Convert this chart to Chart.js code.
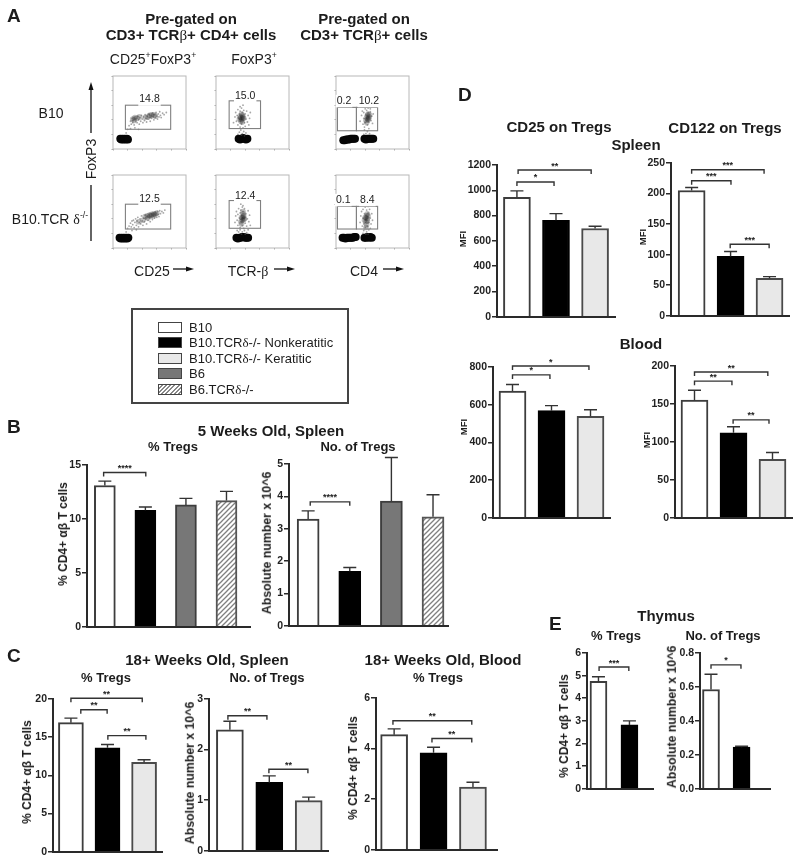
<!DOCTYPE html>
<html>
<head>
<meta charset="utf-8">
<title>Tregs figure</title>
<script src="https://cdn.jsdelivr.net/npm/chart.js@4"></script>
<style>
  html, body { margin: 0; background: #fff; }
  #fig { position: relative; width: 800px; height: 864px; overflow: hidden; font-family: "Liberation Sans", Arial, sans-serif; color: #1c1c1c; filter: blur(0.35px); }
  #fig canvas { position: absolute; }
  .t { position: absolute; white-space: nowrap; line-height: 1; }
  .t sup { font-size: 0.62em; line-height: 0; }
  .sym { font-family: "Liberation Serif", serif; font-weight: normal; }
  #legend { position: absolute; left: 131px; top: 308px; width: 214px; height: 92px; border: 2px solid #444; }
  .sw { position: absolute; left: 158px; width: 22px; height: 9px; border: 1px solid #444; }
</style>
</head>
<body>
<div id="fig">
  <div id="legend"></div>
  <svg id="arrows" width="800" height="864" style="position:absolute;left:0;top:0">
    <g stroke="#111" stroke-width="1.3" fill="#111">
      <line x1="91" y1="86" x2="91" y2="133"/><path d="M91 82 L88.5 90 L93.5 90 Z" stroke="none"/>
      <line x1="91" y1="185" x2="91" y2="241"/>
      <line x1="173" y1="269" x2="190" y2="269"/><path d="M194 269 L186 266.5 L186 271.5 Z" stroke="none"/>
      <line x1="274" y1="269" x2="291" y2="269"/><path d="M295 269 L287 266.5 L287 271.5 Z" stroke="none"/>
      <line x1="383" y1="269" x2="400" y2="269"/><path d="M404 269 L396 266.5 L396 271.5 Z" stroke="none"/>
    </g>
  </svg>
</div>
<script>
// Panel A - flow plots, x and y in percent of the plot
const gatesTop1 = [[17, 79, 27, 60, "14.8", 50, 68]];
const gatesTop2 = [[18, 61, 28, 66, "15.0", 40, 73]];
const gatesTop3 = [[2, 28, 25, 57, "0.2", 11, 66], [28, 57, 25, 57, "10.2", 45, 66]];
const gatesBot1 = [[17, 79, 26, 60, "12.5", 50, 67]];
const gatesBot2 = [[18, 61, 27, 65, "12.4", 40, 71]];
const gatesBot3 = [[2, 28, 26, 57, "0.1", 10, 66], [28, 57, 26, 57, "8.4", 43, 66]];

const blobTop1 = [[10, 14], [11.5, 13], [13, 14], [14.5, 13], [16, 14], [17.5, 13], [19, 14], [20.5, 13]];
const blobTop2 = [[31, 14], [33, 13], [35, 14], [37, 15], [39, 14], [41, 13], [43, 14]];
const blobTop3 = [[10, 12], [12, 12], [14, 13], [16, 13], [18, 13], [20, 14], [22, 14], [24, 14], [26, 14], [39, 14], [41, 13], [43, 14], [45, 14], [47, 14], [49, 14], [51, 14]];
const blobBot1 = [[9, 14], [10.5, 13], [12, 14], [13.5, 13], [15, 14], [16.5, 13], [18, 14], [19.5, 13], [21, 14]];
const blobBot2 = [[28, 14], [30, 13], [32, 14], [34, 14], [36, 15], [38, 15], [40, 14], [42, 14], [44, 14]];
const blobBot3 = [[9, 14], [11, 14], [13, 13], [15, 14], [17, 14], [19, 14], [21, 14], [23, 14], [25, 15], [27, 15], [39, 14], [41, 14], [43, 15], [45, 14], [47, 15], [49, 14]];

const coreTop1 = [[27, 41], [30, 43], [33, 42], [29, 39], [36, 44], [50, 46], [53, 47], [56, 47], [58, 45], [48, 44], [44, 43]];
const coreTop2 = [[33, 44], [36, 46], [35, 40], [38, 42], [32, 41], [36, 37], [34, 43], [37, 44], [35, 48], [36, 42], [34, 38]];
const coreTop3 = [[42, 43], [45, 44], [44, 40], [41, 39], [46, 47], [43, 46], [43, 41], [45, 42], [42, 36], [44, 48]];
const coreBot1 = [[44, 43], [47, 44], [50, 45], [53, 46], [56, 47], [58, 46], [52, 44], [55, 44], [60, 48], [41, 38], [35, 36], [48, 41]];
const coreBot2 = [[35, 42], [38, 44], [36, 38], [39, 40], [34, 36], [37, 47], [36, 41], [38, 39], [37, 43], [35, 33], [37, 50]];
const coreBot3 = [[40, 42], [43, 40], [41, 36], [44, 44], [42, 32], [39, 38], [41, 41], [43, 37], [42, 44], [41, 28], [43, 47]];

const cloudTop1 = [[22, 32], [24, 38], [25, 34], [26, 42], [27, 36], [28, 40], [29, 33], [30, 44], [31, 38], [32, 42], [33, 36], [34, 45], [35, 40], [36, 34], [37, 43], [38, 38], [39, 46], [40, 41], [41, 36], [42, 44], [43, 39], [44, 47], [45, 42], [46, 37], [47, 45], [48, 41], [49, 48], [50, 43], [51, 38], [52, 46], [53, 42], [54, 49], [55, 44], [56, 40], [57, 47], [58, 43], [59, 50], [60, 45], [61, 41], [62, 48], [63, 44], [64, 51], [65, 46], [66, 43], [68, 49], [70, 47], [73, 50], [20, 27], [24, 28], [30, 29], [18, 22], [35, 27], [30, 41], [28, 43], [27, 39], [53, 45], [55, 47], [52, 43], [50, 47]];
const cloudTop2 = [[24, 36], [26, 44], [27, 50], [28, 38], [29, 46], [30, 33], [30, 54], [31, 42], [32, 48], [33, 30], [33, 52], [34, 38], [35, 56], [35, 34], [36, 50], [37, 29], [37, 44], [38, 53], [39, 36], [40, 48], [40, 31], [41, 41], [42, 52], [43, 37], [44, 46], [45, 33], [46, 42], [47, 50], [34, 26], [38, 24], [36, 21], [32, 23], [41, 22], [35, 19], [39, 18], [30, 20], [37, 60], [33, 58]];
const cloudTop3 = [[33, 38], [35, 46], [36, 52], [37, 34], [38, 42], [38, 50], [39, 30], [40, 55], [40, 36], [41, 47], [42, 53], [43, 33], [44, 50], [45, 37], [46, 43], [47, 51], [48, 39], [49, 45], [50, 35], [51, 48], [39, 26], [43, 24], [45, 28], [41, 21], [38, 20], [46, 21], [44, 56], [47, 55]];
const cloudBot1 = [[20, 27], [22, 30], [24, 34], [25, 29], [26, 37], [27, 32], [28, 38], [29, 28], [30, 35], [31, 40], [32, 31], [33, 37], [34, 42], [35, 29], [36, 35], [37, 40], [38, 33], [39, 44], [40, 37], [41, 31], [42, 41], [43, 36], [44, 45], [45, 39], [46, 33], [47, 43], [48, 38], [49, 46], [50, 41], [51, 36], [52, 47], [53, 43], [54, 39], [55, 48], [56, 44], [57, 41], [58, 49], [59, 45], [60, 42], [61, 50], [62, 46], [63, 43], [64, 51], [65, 47], [67, 50], [69, 48], [71, 52], [18, 22], [26, 24], [32, 25], [55, 45], [53, 46], [57, 46], [50, 44], [59, 47], [44, 41]];
const cloudBot2 = [[26, 35], [27, 44], [28, 50], [29, 38], [30, 46], [30, 31], [31, 54], [32, 41], [33, 48], [33, 28], [34, 52], [35, 36], [36, 56], [36, 31], [37, 50], [38, 27], [38, 43], [39, 54], [40, 34], [41, 47], [42, 30], [43, 40], [44, 51], [45, 36], [46, 45], [47, 31], [33, 25], [36, 22], [39, 24], [42, 21], [31, 22], [35, 19], [40, 19], [37, 58], [34, 60], [29, 24], [44, 25]];
const cloudBot3 = [[33, 35], [34, 44], [35, 50], [36, 30], [37, 41], [37, 53], [38, 33], [39, 47], [40, 56], [40, 28], [41, 44], [42, 52], [43, 30], [44, 48], [45, 35], [46, 53], [47, 41], [48, 33], [49, 47], [50, 38], [38, 24], [42, 22], [45, 25], [41, 19], [37, 20], [44, 19], [47, 27], [39, 59], [44, 57]];

// Groups, shared by the bar panels
const groupsB = ["B10", "B10.TCRδ-/- Nonkeratitic", "B6", "B6.TCRδ-/-"];
const groupsCD = ["B10", "B10.TCRδ-/- Nonkeratitic", "B10.TCRδ-/- Keratitic"];
const groupsE = ["B10", "B10.TCRδ-/- Nonkeratitic"];

// Brackets are [from bar, to bar, level on the y axis, stars]
const b1Values = [13.1, 10.8, 11.3, 11.7];
const b1Tops = [13.5, 11.1, 11.9, 12.55];
const b1Brackets = [[-0.03, 1.01, 14.3, "****"]];
const b2Values = [3.3, 1.68, 3.85, 3.37];
const b2Tops = [3.55, 1.8, 5.2, 4.05];
const b2Brackets = [[0.05, 1.0, 3.83, "****"]];

const c1Values = [16.9, 13.6, 11.7];
const c1Tops = [17.5, 14.05, 12.05];
const c1Brackets = [[0, 1.95, 20.1, "**"], [0.27, 0.99, 18.6, "**"], [1.01, 2.05, 15.2, "**"]];
const c2Values = [2.39, 1.35, 0.99];
const c2Tops = [2.56, 1.48, 1.06];
const c2Brackets = [[-0.05, 0.94, 2.67, "**"], [0.99, 1.98, 1.61, "**"]];
const c3Values = [4.55, 3.83, 2.48];
const c3Tops = [4.78, 4.05, 2.67];
const c3Brackets = [[-0.03, 1.97, 5.1, "**"], [0.96, 1.97, 4.4, "**"]];

const d1Values = [945, 762, 698];
const d1Tops = [995, 815, 715];
const d1Brackets = [[0.03, 1.9, 1160, "**"], [0, 0.95, 1066, "*"]];
const d2Values = [205, 97, 61];
const d2Tops = [210, 105, 64];
const d2Brackets = [[0, 1.86, 239, "***"], [0, 1.01, 221, "***"], [0.99, 1.99, 117, "***"]];
const d3Values = [672, 568, 538];
const d3Tops = [707, 595, 573];
const d3Brackets = [[0, 1.96, 805, "*"], [0, 0.96, 758, "*"]];
const d4Values = [155, 112, 77];
const d4Tops = [168, 120, 86];
const d4Brackets = [[0, 1.88, 192, "**"], [0, 0.96, 180, "**"], [0.99, 1.91, 129, "**"]];

const e1Values = [4.75, 2.82];
const e1Tops = [4.95, 3.0];
const e1Brackets = [[0.02, 0.98, 5.38, "***"]];
const e2Values = [0.585, 0.245];
const e2Tops = [0.675, 0.25];
const e2Brackets = [[0, 0.98, 0.73, "*"]];

const fig = document.getElementById("fig");

function txt(html, x, y, size, opts) {
  opts = opts || {};
  const el = document.createElement("div");
  el.className = "t";
  el.innerHTML = html;
  el.style.left = x + "px";
  el.style.top = y + "px";
  el.style.fontSize = size + "px";
  if (opts.bold) el.style.fontWeight = "bold";
  const shift = opts.left ? "translate(0,-50%)" : "translate(-50%,-50%)";
  el.style.transform = shift + (opts.rot ? " rotate(-90deg)" : "");
  fig.appendChild(el);
}

function hatch() {
  const c = document.createElement("canvas");
  c.width = 5; c.height = 5;
  const g = c.getContext("2d");
  g.fillStyle = "#fff";
  g.fillRect(0, 0, 5, 5);
  g.strokeStyle = "#808080";
  g.lineWidth = 1.3;
  g.beginPath();
  g.moveTo(-1, 6); g.lineTo(6, -1);
  g.moveTo(-1, 1); g.lineTo(1, -1);
  g.moveTo(4, 6); g.lineTo(6, 4);
  g.stroke();
  return g.createPattern(c, "repeat");
}

const barStyle = {
  "B10": ["#ffffff", "#3d3d3d"],
  "B10.TCRδ-/- Nonkeratitic": ["#000000", "#000000"],
  "B10.TCRδ-/- Keratitic": ["#e8e8e8", "#4a4a4a"],
  "B6": ["#777777", "#3d3d3d"],
  "B6.TCRδ-/-": [hatch(), "#555555"]
};

// error bars and significance brackets
const marksPlugin = {
  id: "marks",
  afterDatasetsDraw(chart, args, o) {
    const { ctx, scales: { x, y } } = chart;
    ctx.save();
    ctx.strokeStyle = "#333";
    ctx.lineWidth = 1.4;
    o.tops.forEach((top, i) => {
      const px = x.getPixelForValue(i);
      const py = y.getPixelForValue(top);
      ctx.beginPath();
      ctx.moveTo(px, y.getPixelForValue(o.values[i]));
      ctx.lineTo(px, py);
      ctx.moveTo(px - o.cap, py);
      ctx.lineTo(px + o.cap, py);
      ctx.stroke();
    });
    ctx.fillStyle = "#222";
    ctx.font = "bold 9px 'Liberation Sans'";
    ctx.textAlign = "center";
    ctx.textBaseline = "middle";
    o.brackets.forEach(([a, b, level, stars]) => {
      const xa = x.getPixelForValue(a);
      const xb = x.getPixelForValue(b);
      const py = y.getPixelForValue(level);
      ctx.beginPath();
      ctx.moveTo(xa, py + 4);
      ctx.lineTo(xa, py);
      ctx.lineTo(xb, py);
      ctx.lineTo(xb, py + 4);
      ctx.stroke();
      ctx.fillText(stars, (xa + xb) / 2, py - 4);
    });
    ctx.restore();
  }
};

function barPanel(p) {
  const marginL = 40, marginT = 34;
  const canvas = document.createElement("canvas");
  const w = p.right - p.left + marginL + 4;
  const h = p.bottom - p.top + marginT + 6;
  canvas.width = w; canvas.height = h;
  canvas.style.left = (p.left - marginL) + "px";
  canvas.style.top = (p.top - marginT) + "px";
  canvas.style.width = w + "px";
  canvas.style.height = h + "px";
  fig.appendChild(canvas);
  new Chart(canvas, {
    type: "bar",
    data: {
      labels: p.groups,
      datasets: [{
        data: p.values.map((v, i) => ({ x: i, y: v })),
        backgroundColor: p.groups.map(g => barStyle[g][0]),
        borderColor: p.groups.map(g => barStyle[g][1]),
        borderWidth: 2,
        barThickness: p.barW
      }]
    },
    options: {
      responsive: false,
      animation: false,
      maintainAspectRatio: false,
      layout: { padding: { top: marginT, bottom: 6, left: 0, right: 4 } },
      plugins: {
        legend: { display: false },
        tooltip: { enabled: false },
        marks: { tops: p.tops, values: p.values, brackets: p.brackets, cap: 6.5 }
      },
      scales: {
        x: {
          type: "linear",
          offset: false,
          min: p.xMin,
          max: p.xMax,
          ticks: { display: false },
          grid: { display: false },
          border: { color: "#2a2a2a", width: 2 },
          afterFit: s => { s.height = 0; }
        },
        y: {
          min: 0,
          max: p.yMax,
          ticks: {
            stepSize: p.yStep,
            color: "#222",
            padding: 1,
            font: { family: "Liberation Sans", size: 10.5, weight: "bold" },
            callback: v => v.toFixed(p.yStep < 1 ? 1 : 0)
          },
          grid: { drawOnChartArea: false, tickLength: 5, color: "#2a2a2a", lineWidth: 1.5 },
          border: { color: "#2a2a2a", width: 2 },
          afterFit: s => { s.width = marginL; }
        }
      }
    },
    plugins: [marksPlugin]
  });
}

const gatePlugin = {
  id: "gates",
  afterDatasetsDraw(chart, args, o) {
    const { ctx, chartArea: a, scales: { x, y } } = chart;
    ctx.save();
    ctx.strokeStyle = "#b8b8b8";
    ctx.lineWidth = 1;
    ctx.strokeRect(a.left, a.top, a.right - a.left, a.bottom - a.top);
    ctx.strokeStyle = "#808080";
    ctx.lineWidth = 1.1;
    o.gates.forEach(g => {
      ctx.strokeRect(x.getPixelForValue(g[0]), y.getPixelForValue(g[3]), x.getPixelForValue(g[1]) - x.getPixelForValue(g[0]), y.getPixelForValue(g[2]) - y.getPixelForValue(g[3]));
    });
    ctx.font = "10.5px 'Liberation Sans'";
    ctx.textAlign = "center";
    ctx.textBaseline = "middle";
    o.gates.forEach(g => {
      const px = x.getPixelForValue(g[5]);
      const py = y.getPixelForValue(g[6]);
      const tw = ctx.measureText(g[4]).width;
      ctx.fillStyle = "#fff";
      ctx.fillRect(px - tw / 2 - 1, py - 6, tw + 2, 12.5);
      ctx.fillStyle = "#222";
      ctx.fillText(g[4], px, py);
    });
    ctx.restore();
  }
};

function flowPanel(left, top, cloud, core, blob, gates) {
  const size = 76, m = 3;
  const canvas = document.createElement("canvas");
  canvas.width = size + m + 2; canvas.height = size + m + 2;
  canvas.style.left = (left - m) + "px";
  canvas.style.top = (top - 1) + "px";
  canvas.style.width = canvas.width + "px";
  canvas.style.height = canvas.height + "px";
  fig.appendChild(canvas);
  const pts = list => list.map(([x, y]) => ({ x, y }));
  new Chart(canvas, {
    type: "scatter",
    data: {
      datasets: [
        { data: pts(cloud), pointRadius: 0.9, backgroundColor: "rgba(80,80,80,0.5)", borderWidth: 0 },
        { data: pts(core), pointRadius: 2.8, backgroundColor: "rgba(30,30,30,0.28)", borderWidth: 0 },
        { data: pts(blob), pointRadius: 4, backgroundColor: "#060606", borderWidth: 0 }
      ]
    },
    options: {
      responsive: false,
      animation: false,
      maintainAspectRatio: false,
      layout: { padding: { top: 1, right: 2, left: 0, bottom: 0 } },
      plugins: { legend: { display: false }, tooltip: { enabled: false }, gates: { gates } },
      scales: {
        x: {
          min: 0, max: 100,
          ticks: { display: false, stepSize: 20 },
          grid: { drawOnChartArea: false, tickLength: 1.5, color: "#aaa" },
          border: { display: false },
          afterFit: s => { s.height = m; }
        },
        y: {
          min: 0, max: 100,
          ticks: { display: false, stepSize: 20 },
          grid: { drawOnChartArea: false, tickLength: 1.5, color: "#aaa" },
          border: { display: false },
          afterFit: s => { s.width = m; }
        }
      }
    },
    plugins: [gatePlugin]
  });
}

flowPanel(112, 73, cloudTop1, coreTop1, blobTop1, gatesTop1);
flowPanel(215, 73, cloudTop2, coreTop2, blobTop2, gatesTop2);
flowPanel(335, 73, cloudTop3, coreTop3, blobTop3, gatesTop3);
flowPanel(112, 172, cloudBot1, coreBot1, blobBot1, gatesBot1);
flowPanel(215, 172, cloudBot2, coreBot2, blobBot2, gatesBot2);
flowPanel(335, 172, cloudBot3, coreBot3, blobBot3, gatesBot3);

barPanel({ left: 87, right: 250, top: 465, bottom: 628, xMin: -0.44, xMax: 3.58, yMax: 15, yStep: 5, barW: 21, groups: groupsB, values: b1Values, tops: b1Tops, brackets: b1Brackets });
barPanel({ left: 289, right: 448, top: 464, bottom: 627, xMin: -0.46, xMax: 3.36, yMax: 5, yStep: 1, barW: 22, groups: groupsB, values: b2Values, tops: b2Tops, brackets: b2Brackets });
barPanel({ left: 53, right: 162, top: 699, bottom: 853, xMin: -0.49, xMax: 2.49, yMax: 20, yStep: 5, barW: 25, groups: groupsCD, values: c1Values, tops: c1Tops, brackets: c1Brackets });
barPanel({ left: 209, right: 328, top: 699, bottom: 852, xMin: -0.53, xMax: 2.49, yMax: 3, yStep: 1, barW: 27, groups: groupsCD, values: c2Values, tops: c2Tops, brackets: c2Brackets });
barPanel({ left: 376, right: 497, top: 698, bottom: 851, xMin: -0.46, xMax: 2.61, yMax: 6, yStep: 2, barW: 27, groups: groupsCD, values: c3Values, tops: c3Tops, brackets: c3Brackets });
barPanel({ left: 497, right: 615, top: 165, bottom: 318, xMin: -0.51, xMax: 2.51, yMax: 1200, yStep: 200, barW: 27, groups: groupsCD, values: d1Values, tops: d1Tops, brackets: d1Brackets });
barPanel({ left: 671, right: 789, top: 163, bottom: 317, xMin: -0.53, xMax: 2.5, yMax: 250, yStep: 50, barW: 27, groups: groupsCD, values: d2Values, tops: d2Tops, brackets: d2Brackets });
barPanel({ left: 493, right: 610, top: 367, bottom: 519, xMin: -0.5, xMax: 2.5, yMax: 800, yStep: 200, barW: 27, groups: groupsCD, values: d3Values, tops: d3Tops, brackets: d3Brackets });
barPanel({ left: 675, right: 792, top: 366, bottom: 519, xMin: -0.5, xMax: 2.5, yMax: 200, yStep: 50, barW: 27, groups: groupsCD, values: d4Values, tops: d4Tops, brackets: d4Brackets });
barPanel({ left: 587, right: 653, top: 653, bottom: 790, xMin: -0.37, xMax: 1.76, yMax: 6, yStep: 1, barW: 17, groups: groupsE, values: e1Values, tops: e1Tops, brackets: e1Brackets });
barPanel({ left: 700, right: 770, top: 653, bottom: 790, xMin: -0.36, xMax: 1.93, yMax: 0.8, yStep: 0.2, barW: 17, groups: groupsE, values: e2Values, tops: e2Tops, brackets: e2Brackets });

// panel letters
txt("A", 7, 15, 19, { bold: true, left: true });
txt("B", 7, 426, 19, { bold: true, left: true });
txt("C", 7, 655, 19, { bold: true, left: true });
txt("D", 458, 94, 19, { bold: true, left: true });
txt("E", 549, 623, 19, { bold: true, left: true });

// panel A text
const beta = '<span class="sym">β</span>', delta = '<span class="sym">δ</span>';
txt("Pre-gated on", 191, 18, 15, { bold: true });
txt("CD3+ TCR" + beta + "+ CD4+ cells", 191, 35, 15, { bold: true });
txt("Pre-gated on", 364, 18, 15, { bold: true });
txt("CD3+ TCR" + beta + "+ cells", 364, 35, 15, { bold: true });
txt("CD25<sup>+</sup>FoxP3<sup>+</sup>", 153, 59, 14);
txt("FoxP3<sup>+</sup>", 254, 59, 14);
txt("B10", 51, 113, 14);
txt("B10.TCR " + delta + "<sup>-/-</sup>", 50, 219, 14);
txt("FoxP3", 91, 159, 14, { rot: true });
txt("CD25", 152, 271, 14);
txt("TCR-" + beta, 248, 271, 14);
txt("CD4", 364, 271, 14);

// legend
const legendRows = [
  ["B10", 327, "#fff"],
  ["B10.TCR" + delta + "-/- Nonkeratitic", 342, "#000"],
  ["B10.TCR" + delta + "-/- Keratitic", 358, "#e8e8e8"],
  ["B6", 373, "#777"],
  ["B6.TCR" + delta + "-/-", 389, "repeating-linear-gradient(135deg,#fff 0 1.5px,#888 1.5px 3px)"]
];
legendRows.forEach(([name, y, fill]) => {
  const sw = document.createElement("div");
  sw.className = "sw";
  sw.style.top = (y - 5) + "px";
  sw.style.background = fill;
  fig.appendChild(sw);
  txt(name, 189, y, 13, { left: true });
});

// panel headings and axis titles
txt("5 Weeks Old, Spleen", 271, 430, 15, { bold: true });
txt("% Tregs", 173, 446, 13, { bold: true });
txt("No. of Tregs", 358, 446, 13, { bold: true });
txt("18+ Weeks Old, Spleen", 207, 659, 15, { bold: true });
txt("% Tregs", 106, 677, 13, { bold: true });
txt("No. of Tregs", 267, 677, 13, { bold: true });
txt("18+ Weeks Old, Blood", 443, 659, 15, { bold: true });
txt("% Tregs", 438, 677, 13, { bold: true });
txt("CD25 on Tregs", 559, 126, 15, { bold: true });
txt("CD122 on Tregs", 725, 127, 15, { bold: true });
txt("Spleen", 636, 144, 15, { bold: true });
txt("Blood", 641, 343, 15, { bold: true });
txt("Thymus", 666, 615, 15, { bold: true });
txt("% Tregs", 616, 635, 13, { bold: true });
txt("No. of Tregs", 723, 635, 13, { bold: true });

const cd4Title = "% CD4+ αβ T cells", absTitle = "Absolute number x 10^6";
txt(cd4Title, 63, 534, 12, { bold: true, rot: true });
txt(absTitle, 267, 543, 12.3, { bold: true, rot: true });
txt(cd4Title, 27, 772, 12, { bold: true, rot: true });
txt(absTitle, 190, 773, 12.3, { bold: true, rot: true });
txt(cd4Title, 353, 768, 12, { bold: true, rot: true });
txt(cd4Title, 564, 726, 12, { bold: true, rot: true });
txt(absTitle, 672, 717, 12.3, { bold: true, rot: true });
txt("MFI", 463, 239, 9.5, { bold: true, rot: true });
txt("MFI", 643, 237, 9.5, { bold: true, rot: true });
txt("MFI", 464, 427, 9.5, { bold: true, rot: true });
txt("MFI", 647, 440, 9.5, { bold: true, rot: true });
</script>
</body>
</html>
